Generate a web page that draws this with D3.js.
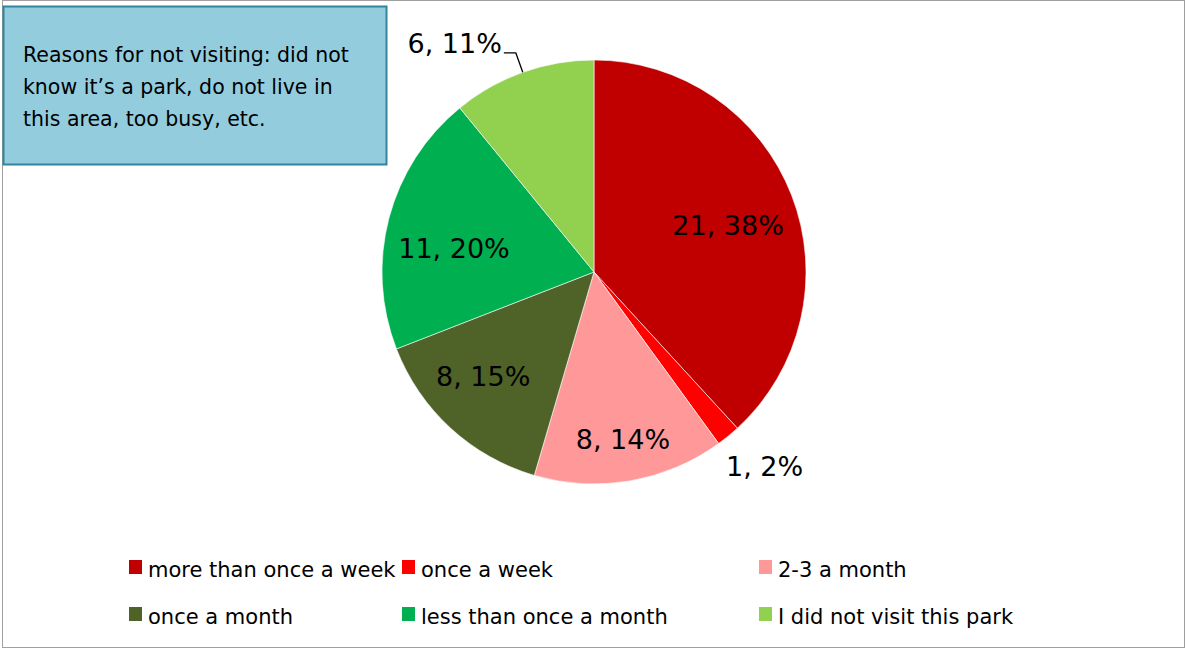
<!DOCTYPE html>
<html>
<head>
<meta charset="utf-8">
<script src="https://cdn.jsdelivr.net/npm/d3@7"></script>
<style>
  body { margin: 0; background: #fff; }
  svg text { font-family: "DejaVu Sans", sans-serif; fill: #000; }
</style>
</head>
<body>
<div id="chart"></div>
<script>
// data
var categories = ["more than once a week", "once a week", "2-3 a month",
                  "once a month", "less than once a month", "I did not visit this park"];
var counts = [21, 1, 8, 8, 11, 6];
var percentLabels = ["38%", "2%", "14%", "15%", "20%", "11%"];
var colors = ["#C00000", "#FF0000", "#FF9999", "#4F6228", "#00B050", "#92D050"];
var noteLines = ["Reasons for not visiting: did not",
                 "know it\u2019s a park, do not live in",
                 "this area, too busy, etc."];

// label placement (radius factor, angle shift in degrees)
var labelPos = [[0.67, 2], [1.22, -2], [0.8, 0], [0.72, 4], [0.67, -5], [1.26, -12]];

var w = 1186, h = 649;
var cx = 594, cy = 272, r = 212;

var svg = d3.select("#chart").append("svg")
  .attr("width", w)
  .attr("height", h);

// chart frame
svg.append("rect")
  .attr("x", 2.5).attr("y", 0.5)
  .attr("width", w - 4).attr("height", h - 2)
  .attr("fill", "#fff")
  .attr("stroke", "#a0a0a0");

var pie = d3.pie().sort(null).value(function(d) { return d; });
var arcs = pie(counts);
var arc = d3.arc().innerRadius(0).outerRadius(r);

var g = svg.append("g").attr("transform", "translate(" + cx + "," + cy + ")");

g.selectAll("path")
  .data(arcs)
  .enter()
  .append("path")
  .attr("d", arc)
  .attr("fill", function(d, i) { return colors[i]; })
  .attr("stroke", "#fff")
  .attr("stroke-width", 0.6);

function polar(a, rad) {
  return [rad * Math.sin(a), -rad * Math.cos(a)];
}

// data labels
g.selectAll("text.lbl")
  .data(arcs)
  .enter()
  .append("text")
  .attr("class", "lbl")
  .attr("font-size", "27px")
  .attr("text-anchor", function(d, i) { return i == 5 ? "end" : "middle"; })
  .attr("dominant-baseline", "central")
  .attr("transform", function(d, i) {
    var mid = (d.startAngle + d.endAngle) / 2;
    if (i == 5) {
      var e = polar(mid, r * 1.097);
      return "translate(" + (e[0] - 14) + "," + (e[1] - 9) + ")";
    }
    var a = mid + labelPos[i][1] * Math.PI / 180;
    var p = polar(a, r * labelPos[i][0]);
    return "translate(" + p[0] + "," + p[1] + ")";
  })
  .text(function(d, i) { return counts[i] + ", " + percentLabels[i]; });

// leader line for the outside label
var last = arcs[5];
var lastMid = (last.startAngle + last.endAngle) / 2;
var p0 = polar(lastMid, r), p1 = polar(lastMid, r * 1.097);
g.append("polyline")
  .attr("points", [p0, p1, [p1[0] - 12, p1[1]]].map(function(p) { return p.join(","); }).join(" "))
  .attr("fill", "none")
  .attr("stroke", "#000")
  .attr("stroke-width", 1.3);

// note box
svg.append("rect")
  .attr("x", 3.5).attr("y", 6.5)
  .attr("width", 383).attr("height", 158)
  .attr("fill", "#93CDDD")
  .attr("stroke", "#31849B")
  .attr("stroke-width", 2);

svg.selectAll("text.note")
  .data(noteLines)
  .enter()
  .append("text")
  .attr("class", "note")
  .attr("x", 23)
  .attr("y", function(d, i) { return 62 + i * 32; })
  .attr("font-size", "20.5px")
  .text(function(d) { return d; });

// legend
var colX = [129, 402, 759];
var leg = svg.selectAll("g.leg")
  .data(categories)
  .enter()
  .append("g")
  .attr("class", "leg")
  .attr("transform", function(d, i) {
    return "translate(" + colX[i % 3] + "," + (560 + Math.floor(i / 3) * 47) + ")";
  });

leg.append("rect")
  .attr("width", 13).attr("height", 14)
  .attr("fill", function(d, i) { return colors[i]; });

leg.append("text")
  .attr("x", 19)
  .attr("y", 10)
  .attr("dominant-baseline", "central")
  .attr("font-size", "21px")
  .text(function(d) { return d; });
</script>
</body>
</html>
